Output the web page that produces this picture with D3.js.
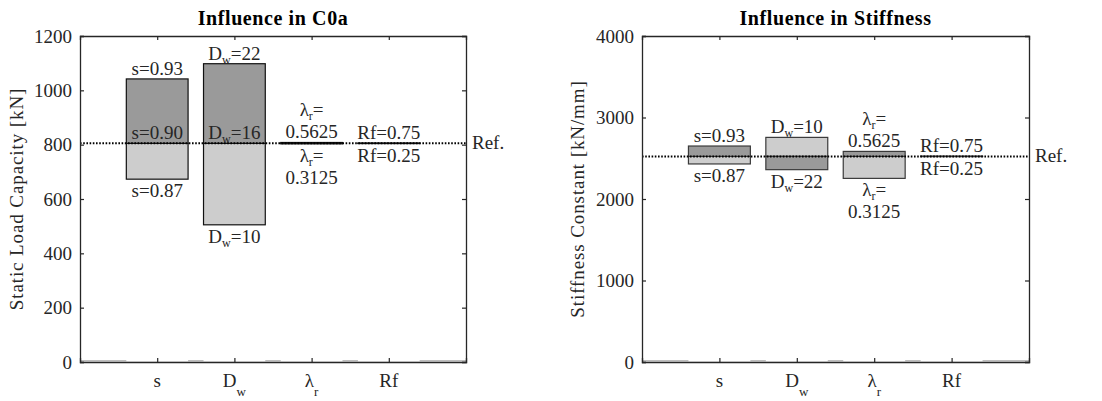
<!DOCTYPE html>
<html>
<head>
<meta charset="utf-8">
<script src="https://cdn.jsdelivr.net/npm/d3@7"></script>
<style>
  html, body { margin: 0; padding: 0; background: #fff; }
  svg { display: block; }
  text { font-family: "Liberation Serif", "Times New Roman", serif; }
</style>
</head>
<body>
<svg id="chart" width="1102" height="401"></svg>
<script>
// ---------- data ----------
const categories = ["s", "D_w", "λ_r", "Rf"];

// Static load capacity C0a [kN]
const c0aRef = 805;
const c0aHigh = [1042, 1098, 808, 806];   // result for the high parameter value (dark)
const c0aLow  = [673, 505, 803, 804];     // result for the low parameter value (light)
const c0aHighLabels = [["s=0.93"], ["D_w=22"], ["λ_r=", "0.5625"], ["Rf=0.75"]];
const c0aLowLabels  = [["s=0.87"], ["D_w=10"], ["λ_r=", "0.3125"], ["Rf=0.25"]];
const c0aRefLabels  = ["s=0.90", "D_w=16", null, null];
const c0aTicks = [0, 200, 400, 600, 800, 1000, 1200];

// Stiffness constant [kN/mm]
const stiffRef = 2523;
const stiffHigh = [2650, 2360, 2584, 2526];
const stiffLow  = [2430, 2756, 2253, 2520];
const stiffHighLabels = [["s=0.93"], ["D_w=22"], ["λ_r=", "0.5625"], ["Rf=0.75"]];
const stiffLowLabels  = [["s=0.87"], ["D_w=10"], ["λ_r=", "0.3125"], ["Rf=0.25"]];
const stiffRefLabels  = [null, null, null, null];
const stiffTicks = [0, 1000, 2000, 3000, 4000];

// ---------- drawing ----------
const svg = d3.select("#chart");
const DARK = "#9a9a9a", LIGHT = "#cdcdcd";

function richText(sel, str, subSize, subDy) {
  const parts = [];
  let i = 0;
  while (i < str.length) {
    const k = str.indexOf("_", i);
    if (k < 0) { parts.push({t: str.slice(i), sub: false}); break; }
    if (k > i) parts.push({t: str.slice(i, k), sub: false});
    parts.push({t: str[k + 1], sub: true});
    i = k + 2;
  }
  let shifted = false;
  parts.forEach(p => {
    const ts = sel.append("tspan").text(p.t);
    if (p.sub) { ts.attr("dy", subDy).attr("font-size", subSize); shifted = true; }
    else if (shifted) { ts.attr("dy", -subDy); shifted = false; }
  });
}

function drawPanel(opt) {
  const {x0, x1, y0, y1, yMax, ref, high, low, highLabels, lowLabels, refLabels,
         ticks, title, ylabel, yLabelX, edge} = opt;
  const g = svg.append("g");
  const x = d3.scaleLinear().domain([0, categories.length + 1]).range([x0, x1]);
  const y = d3.scaleLinear().domain([0, yMax]).range([y1, y0]);
  const bw = 0.8;

  // gray baseline (visible between bars)
  g.append("line").attr("x1", x0).attr("x2", x1)
    .attr("y1", y(0) - 1.2).attr("y2", y(0) - 1.2)
    .attr("stroke", "#bdbdbd").attr("stroke-width", 1.6);

  const idx = d3.range(categories.length);
  g.selectAll("rect.base").data(idx).join("rect")
    .attr("x", i => x(i + 1 - bw / 2)).attr("width", x(bw) - x(0))
    .attr("y", i => y(Math.min(high[i], low[i], ref)))
    .attr("height", i => y(0) - y(Math.min(high[i], low[i], ref)) - 0.5)
    .attr("fill", "#fff");

  const segs = [];
  idx.forEach(i => {
    segs.push({i, v: low[i], c: LIGHT});
    segs.push({i, v: high[i], c: DARK});
  });
  g.selectAll("rect.seg").data(segs).join("rect")
    .attr("x", d => x(d.i + 1 - bw / 2)).attr("width", x(bw) - x(0))
    .attr("y", d => y(Math.max(d.v, ref)))
    .attr("height", d => Math.max(Math.abs(y(d.v) - y(ref)), 0.01))
    .attr("fill", d => d.c).attr("stroke", edge).attr("stroke-width", 1.2);

  g.append("line").attr("x1", x0).attr("x2", x1)
    .attr("y1", y(ref)).attr("y2", y(ref))
    .attr("stroke", "#000").attr("stroke-width", 2).attr("stroke-dasharray", "1.6,1.6");
  g.append("text").attr("x", x1 + 6).attr("y", y(ref) + 6)
    .attr("font-size", 19).attr("fill", "#262626").text("Ref.");

  const LH = 22;
  idx.forEach(i => {
    const cx = x(i + 1);
    const hiAbove = high[i] >= low[i];
    const aboveLines = hiAbove ? highLabels[i] : lowLabels[i];
    const belowLines = hiAbove ? lowLabels[i] : highLabels[i];
    const top = y(Math.max(high[i], low[i], ref));
    const bot = y(Math.min(high[i], low[i], ref));
    aboveLines.forEach((s, j) => {
      const t = g.append("text").attr("x", cx).attr("text-anchor", "middle")
        .attr("y", top - 4 - (aboveLines.length - 1 - j) * LH)
        .attr("font-size", 19).attr("fill", "#262626");
      richText(t, s, 12, 4);
    });
    belowLines.forEach((s, j) => {
      const t = g.append("text").attr("x", cx).attr("text-anchor", "middle")
        .attr("y", bot + 18 + j * LH)
        .attr("font-size", 19).attr("fill", "#262626");
      richText(t, s, 12, 4);
    });
    if (refLabels[i]) {
      const t = g.append("text").attr("x", cx).attr("text-anchor", "middle")
        .attr("y", y(ref) - 4).attr("font-size", 19).attr("fill", "#262626");
      richText(t, refLabels[i], 12, 4);
    }
  });

  const axisColor = "#262626";
  const left = g.append("g").attr("transform", `translate(${x0},0)`)
    .call(d3.axisLeft(y).tickValues(ticks).tickSize(-4).tickPadding(8).tickFormat(d3.format("d")));
  const right = g.append("g").attr("transform", `translate(${x1},0)`)
    .call(d3.axisRight(y).tickValues(ticks).tickSize(-4).tickFormat(""));
  const bottom = g.append("g").attr("transform", `translate(0,${y1})`)
    .call(d3.axisBottom(x).tickValues(d3.range(1, categories.length + 1)).tickSize(-4).tickFormat(""));
  const topAx = g.append("g").attr("transform", `translate(0,${y0})`)
    .call(d3.axisTop(x).tickValues(d3.range(1, categories.length + 1)).tickSize(-4).tickFormat(""));
  [left, right, bottom, topAx].forEach(a => {
    a.select(".domain").attr("stroke", axisColor).attr("stroke-width", 1.3);
    a.selectAll(".tick line").attr("stroke", axisColor).attr("stroke-width", 1.2);
  });
  left.selectAll(".tick text").attr("font-family", "Liberation Serif").attr("font-size", 19).attr("fill", "#262626");

  categories.forEach((c, i) => {
    const t = g.append("text").attr("x", x(i + 1)).attr("y", y1 + 25)
      .attr("text-anchor", "middle").attr("font-size", 19).attr("fill", "#262626");
    richText(t, c, 13, 9);
  });

  g.append("text").attr("x", (x0 + x1) / 2).attr("y", y0 - 11)
    .attr("text-anchor", "middle").attr("font-size", 20).attr("font-weight", "bold")
    .attr("letter-spacing", 0.6).attr("fill", "#000").text(title);

  g.append("text").attr("transform", `translate(${yLabelX},${(y0 + y1) / 2}) rotate(-90)`)
    .attr("text-anchor", "middle").attr("dominant-baseline", "middle")
    .attr("font-size", 19).attr("letter-spacing", 0.9).attr("fill", "#262626").text(ylabel);
}

drawPanel({
  x0: 80, x1: 466, y0: 36, y1: 362, yMax: 1200,
  ref: c0aRef, high: c0aHigh, low: c0aLow,
  highLabels: c0aHighLabels, lowLabels: c0aLowLabels, refLabels: c0aRefLabels,
  ticks: c0aTicks, title: "Influence in C0a", ylabel: "Static Load Capacity [kN]",
  yLabelX: 19, edge: "#111"
});
drawPanel({
  x0: 642, x1: 1029, y0: 36, y1: 362, yMax: 4000,
  ref: stiffRef, high: stiffHigh, low: stiffLow,
  highLabels: stiffHighLabels, lowLabels: stiffLowLabels, refLabels: stiffRefLabels,
  ticks: stiffTicks, title: "Influence in Stiffness", ylabel: "Stiffness Constant [kN/mm]",
  yLabelX: 580, edge: "#3a3a3a"
});
</script>
</body>
</html>
